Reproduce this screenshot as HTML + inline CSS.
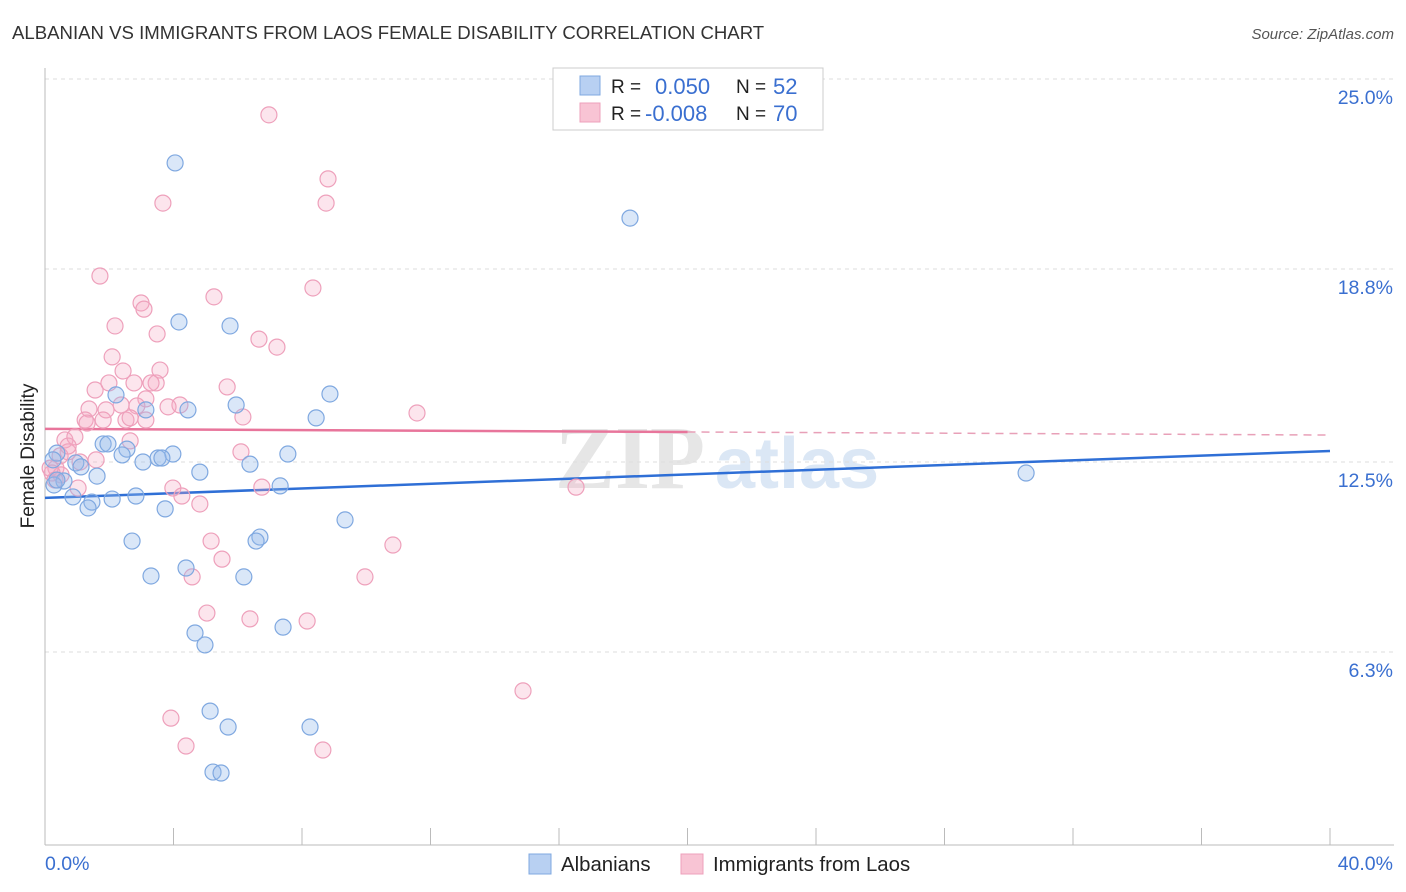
<!DOCTYPE html>
<html><head><meta charset="utf-8">
<style>
body{margin:0;background:#fff;font-family:"Liberation Sans",sans-serif;}
#wrap{position:relative;width:1406px;height:892px;overflow:hidden;}
</style></head>
<body>
<div id="wrap">
<svg id="chart" width="1406" height="892" xmlns="http://www.w3.org/2000/svg">
<text x="12" y="39" font-size="18.6" fill="#333">ALBANIAN VS IMMIGRANTS FROM LAOS FEMALE DISABILITY CORRELATION CHART</text>
<text x="1394" y="39" font-size="15" fill="#555" font-style="italic" text-anchor="end">Source: ZipAtlas.com</text>
<text x="34" y="456" font-size="19" fill="#222" text-anchor="middle" transform="rotate(-90 34 456)">Female Disability</text>
<g><text x="555" y="488" font-size="90" fill="#e6e6e6" font-family="Liberation Serif,serif" font-weight="bold">ZIP</text><text x="715" y="488" font-size="72" fill="#dbe7f5" font-weight="bold">atlas</text></g>
<g id="grid"></g><g id="axes"></g><g id="trends"></g><g id="points"></g>
<g>
<rect x="553" y="68" width="270" height="62" fill="#fff" stroke="#ccc"/>
<rect x="580" y="76" width="20" height="19" fill="#b8d0f2" stroke="#7fa8e0"/>
<text x="611" y="93" font-size="19" fill="#222">R =</text><text x="655" y="94" font-size="22" fill="#3a6fd0">0.050</text>
<text x="736" y="93" font-size="19" fill="#222">N =</text><text x="773" y="94" font-size="22" fill="#3a6fd0">52</text>
<rect x="580" y="103" width="20" height="19" fill="#f8c4d4" stroke="#eea0bb"/>
<text x="611" y="120" font-size="19" fill="#222">R =</text><text x="645" y="121" font-size="22" fill="#3a6fd0">-0.008</text>
<text x="736" y="120" font-size="19" fill="#222">N =</text><text x="773" y="121" font-size="22" fill="#3a6fd0">70</text>
</g>
<g>
<rect x="529" y="854" width="22" height="20" fill="#b8d0f2" stroke="#7fa8e0"/>
<text x="561" y="871" font-size="20.4" fill="#222">Albanians</text>
<rect x="681" y="854" width="22" height="20" fill="#f8c4d4" stroke="#eea0bb"/>
<text x="713" y="871" font-size="20.4" fill="#222">Immigrants from Laos</text>
</g>
</svg>
</div>
<script>
const yTicks=[25.0,18.8,12.5,6.3];
const yTickLabels=["25.0%","18.8%","12.5%","6.3%"];
const xTickCount=10;
const xLabels=["0.0%","40.0%"];
const blueX=[4.05,18.21,4.17,5.76,8.87,5.95,4.45,3.14,2.21,8.44,1.81,1.96,2.55,2.40,3.98,3.52,3.64,3.05,7.56,6.38,4.82,30.54,0.37,0.25,0.96,1.12,1.62,0.59,0.28,0.87,2.09,2.83,1.46,1.34,3.74,9.34,7.32,2.71,6.69,6.57,4.39,3.30,6.19,4.67,4.98,7.41,5.14,5.70,8.25,5.23,5.48,0.37];
const blueY=[22.26,20.46,17.07,16.94,14.72,14.36,14.20,14.20,14.69,13.94,13.09,13.09,12.92,12.73,12.76,12.63,12.63,12.50,12.76,12.43,12.17,12.14,12.79,12.57,12.47,12.34,12.04,11.88,11.75,11.36,11.29,11.39,11.19,11.00,10.97,10.61,11.72,9.92,10.05,9.92,9.04,8.78,8.75,6.92,6.53,7.11,4.37,3.85,3.85,2.38,2.35,11.91];
const pinkX=[6.97,8.81,3.67,8.75,1.71,5.26,8.34,2.99,3.08,2.18,3.49,6.66,7.22,2.09,2.43,3.58,1.99,2.77,3.46,3.30,5.67,1.56,3.14,2.37,1.90,1.37,4.20,3.83,2.86,6.16,11.58,1.25,1.81,2.52,3.14,1.31,2.65,0.62,0.93,2.65,0.72,6.10,0.47,1.59,1.09,0.34,0.22,0.50,3.98,4.26,6.75,4.82,16.53,0.16,5.17,10.83,5.51,4.58,9.96,5.04,6.38,8.16,14.88,3.92,4.39,8.65,1.03,0.72,0.31];
const pinkY=[23.83,21.74,20.95,20.95,18.57,17.89,18.18,17.69,17.49,16.94,16.68,16.51,16.25,15.93,15.47,15.50,15.08,15.08,15.08,15.08,14.95,14.85,14.56,14.36,14.20,14.23,14.36,14.30,14.33,13.97,14.10,13.87,13.87,13.87,13.87,13.77,13.94,13.22,13.32,13.19,12.83,12.83,12.70,12.57,12.50,12.30,12.14,12.08,11.65,11.39,11.68,11.13,11.68,12.30,9.92,9.79,9.33,8.75,8.75,7.57,7.38,7.31,5.03,4.14,3.23,3.10,11.65,13.02,11.91];
const blueTrend=[11.33,12.86];
const pinkTrend=[13.58,13.38];
const pinkSolidEnd=20;

const NS="http://www.w3.org/2000/svg";
const X0=45,X1=1330,Y0=845,PXY=30.64;
function sx(v){return X0+(X1-X0)*v/40;}
function sy(v){return Y0-v*PXY;}
function mk(tag,attrs,parent){const e=document.createElementNS(NS,tag);for(const k in attrs)e.setAttribute(k,attrs[k]);parent.appendChild(e);return e;}
const grid=document.getElementById('grid'),axes=document.getElementById('axes');
yTicks.forEach((t,i)=>{
  const l=mk('line',{x1:X0,x2:1394,y1:sy(t),y2:sy(t),stroke:'#ddd','stroke-dasharray':'4,4'},grid);
  
  
  const tx=mk('text',{x:1393,y:sy(t)+25,'font-size':19.5,fill:'#3a6fd0','text-anchor':'end'},axes);
  tx.textContent=yTickLabels[i];
  
  
});
const ax=mk('line',{x1:X0,x2:X0,y1:68,y2:Y0,stroke:'#bbb'},axes);


const bx=mk('line',{x1:X0,x2:1394,y1:Y0,y2:Y0,stroke:'#bbb'},axes);


for(let i=1;i<=xTickCount;i++){
  const v=40*i/xTickCount;
  const t=mk('line',{x1:sx(v),x2:sx(v),y1:828,y2:Y0,stroke:'#bbb'},axes);
  
  
}
const xl0=mk('text',{x:45,y:870,'font-size':19.5,fill:'#3a6fd0'},axes);xl0.textContent=xLabels[0];


const xl1=mk('text',{x:1393,y:870,'font-size':19.5,fill:'#3a6fd0','text-anchor':'end'},axes);xl1.textContent=xLabels[1];



const pts=document.getElementById('points');
pinkX.forEach((v,i)=>{
  const c=mk('circle',{cx:sx(v),cy:sy(pinkY[i]),r:8,fill:'rgba(245,170,195,0.3)',stroke:'#eea0bb','stroke-width':1.2},pts);
  
  
});
blueX.forEach((v,i)=>{
  const c=mk('circle',{cx:sx(v),cy:sy(blueY[i]),r:8,fill:'rgba(150,185,235,0.35)',stroke:'#7fa8e0','stroke-width':1.2},pts);
  
  
});
const tr=document.getElementById('trends');
function ty(a,v){return a[0]+(a[1]-a[0])*v/40;}
const bl=mk('line',{x1:sx(0),y1:sy(blueTrend[0]),x2:sx(40),y2:sy(blueTrend[1]),stroke:'#2f6fd6','stroke-width':2.5},tr);


const pl=mk('line',{x1:sx(0),y1:sy(pinkTrend[0]),x2:sx(pinkSolidEnd),y2:sy(ty(pinkTrend,pinkSolidEnd)),stroke:'#e8759b','stroke-width':2.5},tr);


const pd=mk('line',{x1:sx(pinkSolidEnd),y1:sy(ty(pinkTrend,pinkSolidEnd)),x2:sx(40),y2:sy(pinkTrend[1]),stroke:'#e8a0b8','stroke-width':1.5,'stroke-dasharray':'8,6'},tr);


</script>
</body></html>
